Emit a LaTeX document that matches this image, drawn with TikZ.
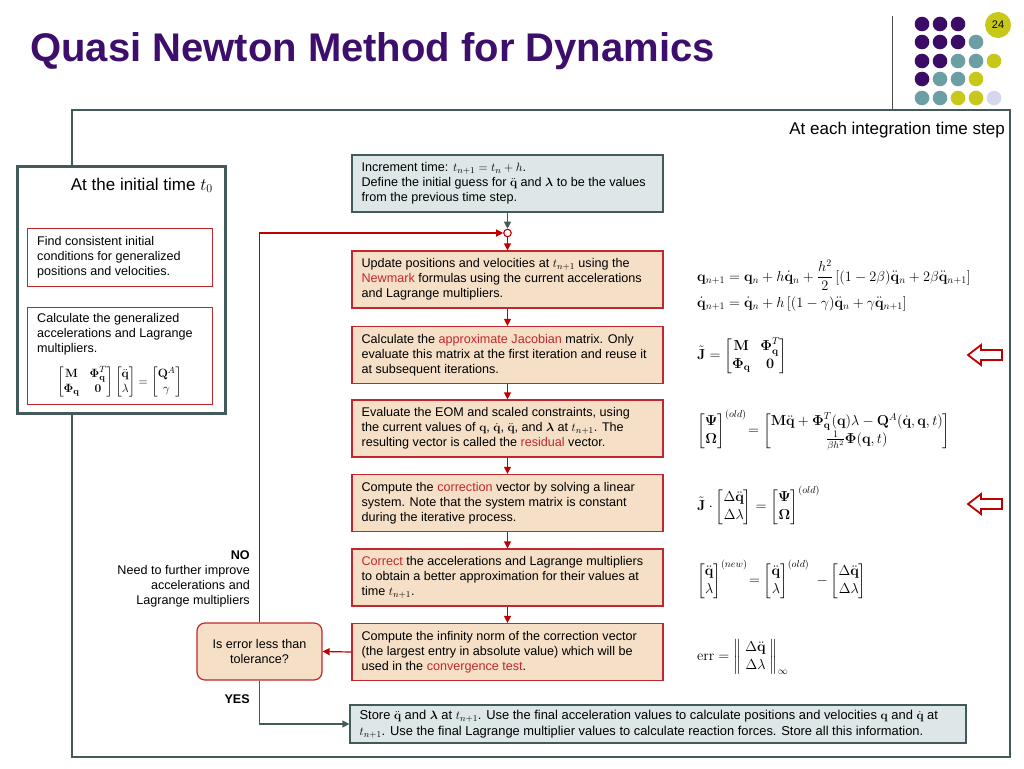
\documentclass[tikz,border=0pt]{standalone}
\usepackage{amsmath,amssymb}
\usepackage[no-math]{fontspec}
\setmainfont{Liberation Sans}
\usetikzlibrary{arrows.meta,calc}
\definecolor{bred}{HTML}{C0282D}
\definecolor{ared}{HTML}{C00000}
\definecolor{peach}{HTML}{F5DFC6}
\definecolor{slate}{HTML}{435A5A}
\definecolor{paleblue}{HTML}{DDE7E7}
\definecolor{ttl}{HTML}{3D0E6B}
\definecolor{dpurple}{HTML}{3B0C66}
\definecolor{dteal}{HTML}{6C9FA4}
\definecolor{dyell}{HTML}{C8C81A}
\definecolor{dlav}{HTML}{D6D6EC}
\newcommand{\bq}{\mathbf{q}}
\newcommand{\hl}[1]{\textcolor{bred}{#1}}
\begin{document}
\begin{tikzpicture}[x=1pt,y=-1pt,
  >={Triangle[length=7pt,width=7pt]},
  body/.style={font=\fontsize{12.6}{15}\selectfont},
  flowbox/.style={draw=bred,fill=peach,line width=1.2pt,minimum width=311pt,minimum height=57pt,inner sep=0pt},
  bluebox/.style={draw=slate,fill=paleblue,line width=1.2pt,minimum height=57pt,minimum width=311pt,inner sep=0pt},
  boxtext/.style={body,anchor=west,align=left,inner sep=0pt},
  redbox/.style={draw=bred,line width=1pt,minimum width=185pt,anchor=north west,inner sep=0pt},
  rarrow/.style={->,draw=ared,line width=1.2pt},
  garrow/.style={->,draw=slate,line width=1.2pt},
  eq/.style={anchor=west,inner sep=0pt,font=\fontsize{14.5}{17.5}\selectfont},
  dot/.style={circle,inner sep=0pt,minimum size=14.6pt},
  hollow/.style={draw=ared,line width=1.8pt,fill=white,line join=miter},
  lbl/.style={body,align=right,inner sep=0pt}
]
\useasboundingbox (0,0) rectangle (1024,768);
% title
\node[anchor=base west,inner sep=0pt,text=ttl,font=\bfseries\fontsize{40}{44}\selectfont] (title) at (30,62) {Quasi Newton Method for Dynamics};
% decoration
\draw[line width=0.8pt,black!70] (892,16) -- (892,110);
\foreach \c/\x/\y in {dpurple/922/24,dpurple/940/24,dpurple/958/24,
  dpurple/922/42,dpurple/940/42,dpurple/958/42,dteal/976/42,
  dpurple/922/61,dpurple/940/61,dteal/958/61,dteal/976/61,dyell/994/61,
  dpurple/922/79,dteal/940/79,dteal/958/79,dyell/976/79,
  dteal/922/98,dteal/940/98,dyell/958/98,dyell/976/98,dlav/994/98}
  \node[dot,fill=\c] at (\x,\y) {};
\node[circle,fill=dyell,minimum size=26pt,inner sep=0pt,font=\fontsize{11}{11}\selectfont] (pg) at (998,25) {24};
% outer frame
\draw[slate,line width=2pt] (72,110) rectangle (1010,757);
\node[anchor=base east,inner sep=0pt,font=\fontsize{17}{19}\selectfont] (hdr) at (1005,134) {At each integration time step};
% left box
\draw[slate,line width=3pt,fill=white] (17,166) rectangle (225,413);
\node[anchor=base east,inner sep=0pt,font=\fontsize{17}{19}\selectfont] (hdr0) at (213,190) {At the initial time $t_0$};
\node[redbox,minimum height=58pt] (ic1) at (27,228) {};
\node[boxtext] (ic1t) at ($(ic1.west)+(10,0)$) {Find consistent initial\\conditions for generalized\\positions and velocities.};
\node[redbox,minimum height=97pt] (ic2) at (27,307) {};
\node[body,anchor=north west,align=left,inner sep=0pt] (ic2t) at (37,313) {Calculate the generalized\\accelerations and Lagrange\\multipliers.};
\node[inner sep=0pt,font=\fontsize{12.5}{15}\selectfont] (ic2e) at (119.5,382) {$\begin{bmatrix}\mathbf{M} & \boldsymbol{\Phi}_{\bq}^T\\ \boldsymbol{\Phi}_{\bq} & \mathbf{0}\end{bmatrix}\begin{bmatrix}\ddot{\bq}\\ \lambda\end{bmatrix}=\begin{bmatrix}\mathbf{Q}^A\\ \gamma\end{bmatrix}$};
% flow boxes
\node[bluebox] (inc) at (507.5,183.5) {};
\node[boxtext] (inct) at ($(inc.west)+(10,0)$) {Increment time: $t_{n+1}=t_n+h$.\\Define the initial guess for $\ddot{\bq}$ and $\boldsymbol{\lambda}$ to be the values\\from the previous time step.};
\node[circle,draw=ared,fill=white,line width=1.1pt,inner sep=0pt,minimum size=7.5pt] (jn) at (507.5,233) {};
\node[flowbox] (b1) at (507.5,279.5) {};
\node[boxtext] (b1t) at ($(b1.west)+(10,0)$) {Update positions and velocities at $t_{n+1}$ using the\\\hl{Newmark} formulas using the current accelerations\\and Lagrange multipliers.};
\node[flowbox] (b2) at (507.5,355) {};
\node[boxtext] (b2t) at ($(b2.west)+(10,0)$) {Calculate the \hl{approximate Jacobian} matrix. Only\\evaluate this matrix at the first iteration and reuse it\\at subsequent iterations.};
\node[flowbox] (b3) at (507.5,428.5) {};
\node[boxtext] (b3t) at ($(b3.west)+(10,0)$) {Evaluate the EOM and scaled constraints, using\\the current values of $\bq$, $\dot{\bq}$, $\ddot{\bq}$, and $\boldsymbol{\lambda}$ at $t_{n+1}$. The\\resulting vector is called the \hl{residual} vector.};
\node[flowbox] (b4) at (507.5,503) {};
\node[boxtext] (b4t) at ($(b4.west)+(10,0)$) {Compute the \hl{correction} vector by solving a linear\\system. Note that the system matrix is constant\\during the iterative process.};
\node[flowbox] (b5) at (507.5,577.5) {};
\node[boxtext] (b5t) at ($(b5.west)+(10,0)$) {\hl{Correct} the accelerations and Lagrange multipliers\\to obtain a better approximation for their values at\\time $t_{n+1}$.};
\node[flowbox] (b6) at (507.5,652) {};
\node[boxtext] (b6t) at ($(b6.west)+(10,0)$) {Compute the infinity norm of the correction vector\\(the largest entry in absolute value) which will be\\used in the \hl{convergence test}.};
\node[body,draw=bred,fill=peach,line width=1.2pt,rounded corners=8pt,minimum width=125pt,minimum height=57pt,align=center] (dec) at (259.5,651.5) {Is error less than\\tolerance?};
\node[draw=slate,fill=paleblue,line width=1.2pt,minimum width=616pt,minimum height=38pt,inner sep=0pt] (st) at (658,724) {};
\node[boxtext,font=\fontsize{12.9}{16}\selectfont] (stt) at ($(st.west)+(10,0)$) {Store $\ddot{\bq}$ and $\boldsymbol{\lambda}$ at $t_{n+1}$. Use the final acceleration values to calculate positions and velocities $\bq$ and $\dot{\bq}$ at\\$t_{n+1}$. Use the final Lagrange multiplier values to calculate reaction forces. Store all this information.};
% labels
\node[lbl,anchor=north east] (no) at (250,550) {\textbf{NO}\\Need to further improve\\accelerations and\\Lagrange multipliers};
\node[lbl,anchor=base east] (yes) at (250,703) {\textbf{YES}};
% connectors
\draw[garrow] (inc.south) -- (jn.north);
\draw[rarrow] (jn.south) -- (b1.north);
\draw[rarrow] (b1.south) -- (b2.north);
\draw[rarrow] (b2.south) -- (b3.north);
\draw[rarrow] (b3.south) -- (b4.north);
\draw[rarrow] (b4.south) -- (b5.north);
\draw[rarrow] (b5.south) -- (b6.north);
\draw[rarrow] (b6.west) -- (dec.east);
\draw[rarrow] (dec.north) |- (jn.west);
\draw[garrow] (dec.south) |- (st.west);
% equations
\node[eq] (e1) at (697,286) {$\begin{aligned}\bq_{n+1}&=\bq_n+h\dot{\bq}_n+\frac{h^2}{2}\left[(1-2\beta)\ddot{\bq}_n+2\beta\ddot{\bq}_{n+1}\right]\\ \dot{\bq}_{n+1}&=\dot{\bq}_n+h\left[(1-\gamma)\ddot{\bq}_n+\gamma\ddot{\bq}_{n+1}\right]\end{aligned}$};
\node[eq] (e2) at (697,356) {$\tilde{\mathbf{J}}=\begin{bmatrix}\mathbf{M} & \boldsymbol{\Phi}_{\bq}^T\\ \boldsymbol{\Phi}_{\bq} & \mathbf{0}\end{bmatrix}$};
\node[eq] (e3) at (697,430) {$\begin{bmatrix}\boldsymbol{\Psi}\\ \boldsymbol{\Omega}\end{bmatrix}^{(old)}\!=\begin{bmatrix}\mathbf{M}\ddot{\bq}+\boldsymbol{\Phi}_{\bq}^T(\bq)\lambda-\mathbf{Q}^A(\dot{\bq},\bq,t)\\ \frac{1}{\beta h^2}\boldsymbol{\Phi}(\bq,t)\end{bmatrix}$};
\node[eq] (e4) at (697,505) {$\tilde{\mathbf{J}}\cdot\begin{bmatrix}\Delta\ddot{\bq}\\ \Delta\lambda\end{bmatrix}=\begin{bmatrix}\boldsymbol{\Psi}\\ \boldsymbol{\Omega}\end{bmatrix}^{(old)}$};
\node[eq] (e5) at (697,579) {$\begin{bmatrix}\ddot{\bq}\\ \lambda\end{bmatrix}^{(new)}\!=\begin{bmatrix}\ddot{\bq}\\ \lambda\end{bmatrix}^{(old)}\;-\begin{bmatrix}\Delta\ddot{\bq}\\ \Delta\lambda\end{bmatrix}$};
\node[eq] (e6) at (697,657) {$\mathrm{err}=\left\|\;\begin{matrix}\Delta\ddot{\bq}\\ \Delta\lambda\end{matrix}\;\right\|_\infty$};
% hollow arrows
\draw[hollow] (968,355) -- (981,345) -- (981,350) -- (1002,350) -- (1002,360) -- (981,360) -- (981,365) -- cycle;
\draw[hollow] (968,504) -- (981,494) -- (981,499) -- (1002,499) -- (1002,509) -- (981,509) -- (981,514) -- cycle;
\end{tikzpicture}
\end{document}
